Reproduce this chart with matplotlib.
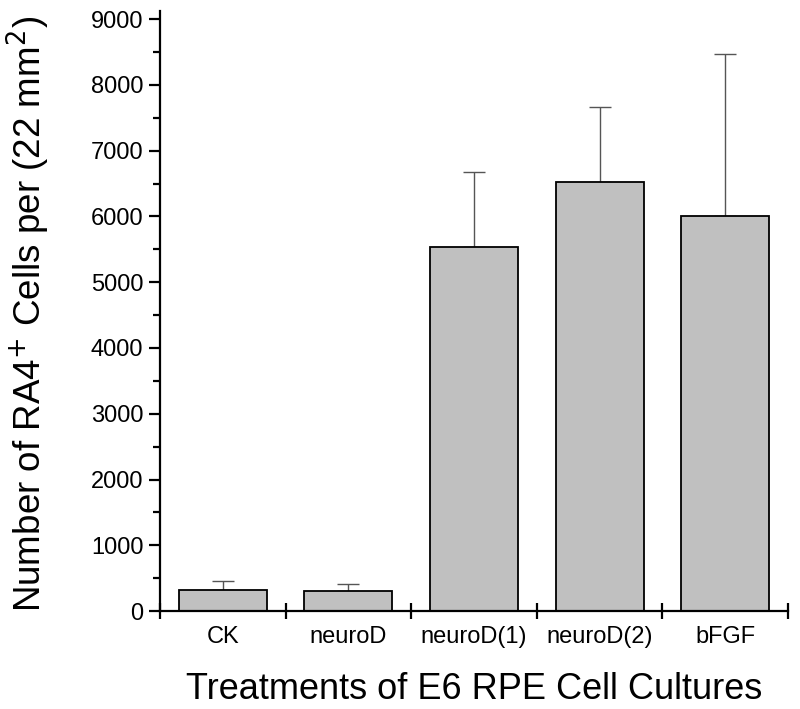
import numpy as np
import matplotlib.pyplot as plt
from matplotlib.ticker import MultipleLocator

plt.rcParams['font.family'] = ['Liberation Sans', 'DejaVu Sans']

treatments = ['CK', 'neuroD', 'neuroD(1)', 'neuroD(2)', 'bFGF']
cells = [325, 300, 5530, 6520, 6000]
errors = [130, 115, 1150, 1150, 2470]

fig = plt.figure(figsize=(8, 7.09), dpi=100)
ax = fig.add_axes([0.2, 0.138, 0.785, 0.8465])

x = np.arange(len(treatments)) + 0.5
ax.bar(x, cells, width=0.7, color='#c0c0c0', edgecolor='black', linewidth=1.3, zorder=2)
ax.errorbar(x, cells, yerr=[np.zeros(len(cells)), errors], fmt='none',
            ecolor='#555555', elinewidth=1.0, capsize=8, capthick=1.0, zorder=1)

ax.set_xlim(0, 5)
ax.set_ylim(0, 9122)
ax.spines['top'].set_visible(False)
ax.spines['right'].set_visible(False)
ax.spines['left'].set_linewidth(1.6)
ax.spines['bottom'].set_linewidth(1.6)

ax.yaxis.set_major_locator(MultipleLocator(1000))
ax.yaxis.set_minor_locator(MultipleLocator(500))
ax.tick_params(axis='y', which='major', direction='out', length=8, width=1.6, labelsize=17, pad=4)
ax.tick_params(axis='y', which='minor', direction='out', length=5, width=1.6)

ax.set_xticks(np.arange(0, 6), minor=False)
ax.set_xticklabels([])
ax.set_xticks(x, minor=True)
ax.set_xticklabels(treatments, minor=True)
ax.tick_params(axis='x', which='major', direction='inout', length=12, width=1.6)
ax.tick_params(axis='x', which='minor', length=0, labelsize=17, pad=11)

ax.set_ylabel('Number of RA4$^{+}$ Cells per (22 mm$^{2}$)', fontsize=26.5)
ax.yaxis.set_label_coords(-0.172, 0.495)
ax.set_xlabel('Treatments of E6 RPE Cell Cultures', fontsize=26, labelpad=17)

fig.savefig('out.png', dpi=100)
